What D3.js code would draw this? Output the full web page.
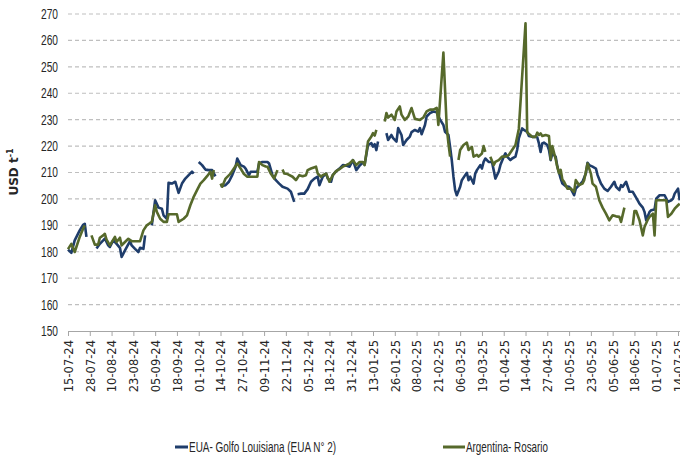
<!DOCTYPE html>
<html>
<head>
<meta charset="utf-8">
<script src="https://cdn.jsdelivr.net/npm/d3@7"></script>
<style>
  body { margin: 0; background: #fff; }
  svg { display: block; }
</style>
</head>
<body>
<svg></svg>
<script>
const yTicks = [150, 160, 170, 180, 190, 200, 210, 220, 230, 240, 250, 260, 270]

const xTickLabels = [
    '15-07-24', '28-07-24', '10-08-24', '23-08-24', '05-09-24', '18-09-24', '01-10-24', '14-10-24',
    '27-10-24', '09-11-24', '22-11-24', '05-12-24', '18-12-24', '31-12-24', '13-01-25', '26-01-25',
    '08-02-25', '21-02-25', '06-03-25', '19-03-25', '01-04-25', '14-04-25', '27-04-25', '10-05-25',
    '23-05-25', '05-06-25', '18-06-25', '01-07-25', '14-07-25'
]

const seriesNames = ['EUA- Golfo Louisiana (EUA N° 2)', 'Argentina- Rosario']

// EUA - Golfo Louisiana, USD/t (null = no quote)
const euaSeries = [
    ['15-07-24', 180.8], ['17-07-24', 179.6], ['19-07-24', 184.3], ['22-07-24', 188.1], ['24-07-24', 190.2],
    ['25-07-24', 190.6], ['26-07-24', 185.6], ['29-07-24', null],
    ['01-08-24', 181.2], ['03-08-24', 183], ['05-08-24', 184.3], ['06-08-24', 185], ['08-08-24', 182.4],
    ['09-08-24', 181.8], ['11-08-24', 184.3], ['13-08-24', 183], ['15-08-24', 181.5], ['16-08-24', 178],
    ['18-08-24', 180.5], ['21-08-24', 184], ['22-08-24', 182.4], ['24-08-24', 181.1], ['26-08-24', 179.9],
    ['27-08-24', 181.5], ['29-08-24', 181.1], ['30-08-24', 186.2], ['01-09-24', null],
    ['03-09-24', 190], ['05-09-24', 199.5], ['07-09-24', 196.7], ['09-09-24', 196.3], ['10-09-24', 193.8],
    ['12-09-24', 192.5], ['13-09-24', 206.1], ['15-09-24', 205.8], ['17-09-24', 206.5], ['19-09-24', 202.3],
    ['21-09-24', 205.8], ['23-09-24', 207.7], ['25-09-24', 209], ['27-09-24', 210.3], ['28-09-24', 209.6],
    ['29-09-24', null],
    ['01-10-24', 214], ['03-10-24', 212.8], ['05-10-24', 211.1], ['07-10-24', 210.9], ['09-10-24', 210.9],
    ['10-10-24', 209.6], ['11-10-24', 208.6], ['12-10-24', null],
    ['14-10-24', 204.8], ['17-10-24', 205.2], ['19-10-24', 206.5], ['21-10-24', 209], ['23-10-24', 212.2],
    ['24-10-24', 215.3], ['26-10-24', 212.8], ['28-10-24', 212.2], ['29-10-24', 211.5], ['31-10-24', 209],
    ['01-11-24', 210.3], ['03-11-24', 210.3], ['05-11-24', 210.3], ['06-11-24', 213.4], ['08-11-24', 214],
    ['11-11-24', 214], ['12-11-24', 213.4], ['14-11-24', 209], ['16-11-24', 207.1], ['18-11-24', 205.8],
    ['20-11-24', 204.6], ['23-11-24', 203.9], ['25-11-24', 202.7], ['27-11-24', 198.9], ['28-11-24', null],
    ['29-11-24', 201.8], ['01-12-24', 202], ['03-12-24', 202], ['05-12-24', 203.7], ['07-12-24', 206.5],
    ['09-12-24', 207.7], ['11-12-24', 208.4], ['12-12-24', 205.2], ['14-12-24', 208.4], ['16-12-24', 209.6],
    ['17-12-24', 207.7], ['19-12-24', 206.5], ['20-12-24', 209], ['22-12-24', 210.5], ['24-12-24', 211.5],
    ['26-12-24', 212.8], ['28-12-24', 212.6], ['30-12-24', 212.2], ['01-01-25', 214.7], ['03-01-25', 210.9],
    ['05-01-25', 212.6], ['07-01-25', 213.8], ['08-01-25', 213], ['10-01-25', 220.4], ['12-01-25', 221.1],
    ['13-01-25', 219.8], ['14-01-25', 220.7], ['15-01-25', 218.5], ['16-01-25', 221.7], ['18-01-25', null],
    ['21-01-25', 224.9], ['22-01-25', 222.3], ['24-01-25', 224.2], ['25-01-25', 223], ['27-01-25', 221.7],
    ['28-01-25', 226.8], ['30-01-25', 224.2], ['31-01-25', 220.4], ['02-02-25', 222.3], ['04-02-25', 223.6],
    ['05-02-25', 225.3], ['07-02-25', 226.1], ['09-02-25', 225.5], ['10-02-25', 226.8], ['11-02-25', 224.5],
    ['13-02-25', 228], ['14-02-25', 231.2], ['16-02-25', 232.5], ['18-02-25', 233.1], ['20-02-25', 232.8],
    ['22-02-25', 230], ['24-02-25', 228], ['25-02-25', 225.4], ['27-02-25', 224.2], ['28-02-25', 219.7],
    ['01-03-25', 214.7], ['02-03-25', 208.4], ['03-03-25', 203.3], ['04-03-25', 201.4], ['06-03-25', 204.6],
    ['07-03-25', 207.1], ['09-03-25', 209], ['10-03-25', 209.9], ['11-03-25', 207.1], ['12-03-25', 208.4],
    ['14-03-25', 205.8], ['15-03-25', 209.6], ['16-03-25', 210.9], ['18-03-25', 212.8], ['19-03-25', 211.5],
    ['20-03-25', 214], ['21-03-25', 215.3], ['23-03-25', 214], ['25-03-25', 214], ['26-03-25', 210.9],
    ['27-03-25', 207.7], ['29-03-25', 210.3], ['30-03-25', 212.8], ['01-04-25', 216], ['02-04-25', 217.2],
    ['03-04-25', 216], ['05-04-25', 214.7], ['06-04-25', 215.3], ['08-04-25', 216], ['09-04-25', 218.5],
    ['10-04-25', 222.9], ['12-04-25', 226.7], ['13-04-25', 226.1], ['15-04-25', 225.4], ['16-04-25', 223.8],
    ['18-04-25', 223.5], ['20-04-25', 223.5], ['21-04-25', 223.3], ['22-04-25', 221], ['23-04-25', 217.8],
    ['24-04-25', 221], ['25-04-25', 221.3], ['27-04-25', 220.4], ['28-04-25', 218.5], ['29-04-25', 214.7],
    ['30-04-25', 217.2], ['02-05-25', 216], ['03-05-25', 212.2], ['05-05-25', 207.7], ['06-05-25', 205.8],
    ['08-05-25', 204.8], ['10-05-25', 204.6], ['11-05-25', 203.9], ['13-05-25', 201.4], ['14-05-25', 203.9],
    ['16-05-25', 205.2], ['18-05-25', 206.5], ['20-05-25', 209.6], ['21-05-25', 213.7], ['22-05-25', 212.8],
    ['24-05-25', 212.2], ['26-05-25', 211.5], ['27-05-25', 209], ['29-05-25', 205.8], ['31-05-25', 203.9],
    ['02-06-25', 203], ['04-06-25', 204.6], ['06-06-25', 206.5], ['07-06-25', 204.6], ['09-06-25', 203.3],
    ['10-06-25', 205.2], ['11-06-25', 204.6], ['13-06-25', 206.5], ['14-06-25', 204.6], ['15-06-25', 202.7],
    ['17-06-25', 202.7], ['19-06-25', 200.5], ['21-06-25', 198.2], ['23-06-25', 196.7], ['24-06-25', 195.1],
    ['25-06-25', 191.9], ['27-06-25', 195.1], ['28-06-25', 195.7], ['30-06-25', 196], ['01-07-25', 200.1],
    ['03-07-25', 201.4], ['04-07-25', 201.4], ['06-07-25', 201.4], ['08-07-25', 198.9], ['10-07-25', 199.5],
    ['11-07-25', 200.1], ['12-07-25', 202], ['14-07-25', 203.9], ['15-07-25', 199.5]
]

// Argentina - Rosario, USD/t (null = no quote)
const argSeries = [
    ['15-07-24', 181], ['17-07-24', 183], ['19-07-24', 179.9], ['20-07-24', 181.8], ['22-07-24', 185.6],
    ['24-07-24', 188.7], ['25-07-24', 190], ['27-07-24', null],
    ['29-07-24', 186.2], ['31-07-24', 182.7], ['02-08-24', 182.7], ['03-08-24', 185.3], ['05-08-24', 186.2],
    ['06-08-24', 186.8], ['07-08-24', 184.6], ['09-08-24', 182.4], ['11-08-24', 184.6], ['12-08-24', 185.6],
    ['13-08-24', 183.7], ['15-08-24', 185.3], ['16-08-24', 182.4], ['18-08-24', 183.7], ['20-08-24', 184.9],
    ['22-08-24', 184], ['25-08-24', 184], ['27-08-24', 184], ['29-08-24', 188.1], ['31-08-24', 190],
    ['02-09-24', 190.9], ['03-09-24', 191.3], ['05-09-24', 197.6], ['06-09-24', 195.1], ['08-09-24', 192.5],
    ['10-09-24', 191.3], ['12-09-24', 191.3], ['13-09-24', 194.2], ['18-09-24', 194.2], ['19-09-24', 191.3],
    ['22-09-24', 192.5], ['24-09-24', 193.8], ['26-09-24', 197.6], ['28-09-24', 200.8], ['30-09-24', 203.3],
    ['02-10-24', 205.8], ['04-10-24', 207.1], ['06-10-24', 208.6], ['08-10-24', 210.3], ['09-10-24', 207.7],
    ['10-10-24', 210.9], ['12-10-24', null],
    ['14-10-24', 205.8], ['15-10-24', 204.6], ['17-10-24', 207.7], ['20-10-24', 209.6], ['22-10-24', 211.5],
    ['24-10-24', 213.4], ['26-10-24', 211.5], ['28-10-24', 209.4], ['30-10-24', 208.4], ['02-11-24', 208.4],
    ['05-11-24', 208.4], ['06-11-24', 214], ['08-11-24', 212.8], ['10-11-24', 212.3], ['11-11-24', 212.2],
    ['13-11-24', 209.6], ['15-11-24', 207.7], ['17-11-24', 210.9], ['18-11-24', null],
    ['20-11-24', 211.1], ['21-11-24', 209.6], ['23-11-24', 209.4], ['26-11-24', 208.4], ['28-11-24', 207.1],
    ['30-11-24', 209], ['02-12-24', 208.6], ['04-12-24', 209], ['05-12-24', 210.9], ['07-12-24', 211.5],
    ['10-12-24', 212.2], ['11-12-24', 209.6], ['13-12-24', 208.4], ['14-12-24', 209], ['16-12-24', 209.6],
    ['18-12-24', 206.5], ['20-12-24', 209], ['22-12-24', 210.5], ['24-12-24', 211.3], ['26-12-24', 212.2],
    ['28-12-24', 212.8], ['30-12-24', 213.4], ['01-01-25', 214.7], ['03-01-25', 212.8], ['05-01-25', 214],
    ['07-01-25', 214], ['08-01-25', 212.8], ['10-01-25', 221.7], ['12-01-25', 223.6], ['13-01-25', 224.9],
    ['14-01-25', 224], ['15-01-25', 226.1], ['17-01-25', null],
    ['20-01-25', 229.3], ['21-01-25', 232.5], ['22-01-25', 230.8], ['24-01-25', 231.9], ['26-01-25', 229.9],
    ['27-01-25', 233.1], ['29-01-25', 235], ['30-01-25', 231.9], ['01-02-25', 229.9], ['03-02-25', 231.2],
    ['05-02-25', 234.4], ['07-02-25', 230.3], ['10-02-25', 229.9], ['12-02-25', 230.8], ['14-02-25', 233.1],
    ['16-02-25', 233.8], ['18-02-25', 233.8], ['20-02-25', 234.5], ['21-02-25', 228], ['24-02-25', 255.4],
    ['26-02-25', 227], ['27-02-25', 221], ['28-02-25', 216], ['02-03-25', null],
    ['05-03-25', 214.7], ['06-03-25', 218.5], ['08-03-25', 220.4], ['10-03-25', 221.3], ['11-03-25', 218.5],
    ['13-03-25', 219.7], ['14-03-25', 216], ['16-03-25', 216.7], ['17-03-25', 216], ['19-03-25', 217.2],
    ['20-03-25', 220], ['21-03-25', 217.8], ['22-03-25', null],
    ['24-03-25', 216], ['26-03-25', 212.8], ['27-03-25', 214], ['29-03-25', 214.7], ['31-03-25', 216],
    ['02-04-25', 216], ['04-04-25', 216.6], ['06-04-25', 218.5], ['08-04-25', 220.4], ['10-04-25', 226.5],
    ['14-04-25', 266.5], ['15-04-25', 225.2], ['18-04-25', 223.5], ['20-04-25', 223.5], ['21-04-25', 225.1],
    ['22-04-25', 224.2], ['23-04-25', 224.8], ['24-04-25', 223.8], ['26-04-25', 224.2], ['28-04-25', 223.8],
    ['29-04-25', 215], ['30-04-25', 220], ['02-05-25', 215], ['03-05-25', 212], ['04-05-25', 209.7],
    ['05-05-25', 211], ['06-05-25', 207.3], ['07-05-25', 206.5], ['09-05-25', 203.9], ['11-05-25', 203.9],
    ['13-05-25', 202.7], ['14-05-25', 207.1], ['16-05-25', 205.2], ['18-05-25', 205.8], ['19-05-25', 207.1],
    ['21-05-25', 213.4], ['23-05-25', 209.6], ['24-05-25', 205.8], ['26-05-25', 204.6], ['28-05-25', 199.5],
    ['30-05-25', 196.7], ['01-06-25', 194.4], ['03-06-25', 191.9], ['05-06-25', 193.8], ['07-06-25', 193.4],
    ['09-06-25', 193.2], ['10-06-25', 191.3], ['12-06-25', 196.7], ['14-06-25', null],
    ['17-06-25', 190], ['18-06-25', 195.4], ['19-06-25', 195.4], ['21-06-25', 191.9], ['23-06-25', 186.2],
    ['24-06-25', 189.4], ['26-06-25', 192.2], ['27-06-25', 193.2], ['29-06-25', 194.4], ['30-06-25', 186.2],
    ['01-07-25', 199.5], ['03-07-25', 199.5], ['05-07-25', 199.5], ['07-07-25', 199.5], ['08-07-25', 193.2],
    ['10-07-25', 194.4], ['12-07-25', 196.3], ['14-07-25', 197.6], ['15-07-25', 198.2]
]

const width = 680
const height = 456
const colors = ['#1f3d6b', '#56692b']
const parse = d3.timeParse('%d-%m-%y')
// no narrow font installed, so narrow texts get squeezed with textLength
const narrowFont = '"Liberation Sans", Arial, sans-serif'

const svg = d3.select('svg').attr('width', width).attr('height', height)

const x = d3.scaleTime()
    .domain([parse('15-07-24'), parse('15-07-25')])
    .range([68, 679.7])

const y = d3.scaleLinear()
    .domain([150, 270])
    .range([331, 14])

// dashed horizontal grid
svg.append('g')
    .selectAll('line')
    .data(yTicks.filter(t => t > 150))
    .join('line')
    .attr('x1', 68)
    .attr('x2', 680)
    .attr('y1', t => y(t))
    .attr('y2', t => y(t))
    .attr('stroke', '#bfbfbf')
    .attr('stroke-width', 1.2)
    .attr('stroke-dasharray', '4,3')

// y axis (labels only)
const yAxis = svg.append('g')
    .attr('transform', 'translate(68,0)')
    .call(d3.axisLeft(y).tickValues(yTicks).tickSize(0).tickPadding(10))
yAxis.select('.domain').remove()
yAxis.selectAll('text')
    .attr('font-family', narrowFont)
    .attr('font-size', 14)
    .attr('fill', '#262626')
    .attr('textLength', 17)
    .attr('lengthAdjust', 'spacingAndGlyphs')

// x axis with rotated date labels
const xAxis = svg.append('g')
    .attr('transform', 'translate(0,331)')
    .call(d3.axisBottom(x)
        .tickValues(xTickLabels.map(parse))
        .tickFormat(d3.timeFormat('%d-%m-%y'))
        .tickSize(5)
        .tickSizeOuter(0))
xAxis.select('.domain').attr('stroke', '#a6a6a6').attr('d', 'M68,0.5H680')
xAxis.selectAll('.tick line').attr('stroke', '#a6a6a6')
xAxis.selectAll('text')
    .attr('font-family', '"DejaVu Sans", Verdana, sans-serif')
    .attr('font-size', 11.5)
    .attr('fill', '#262626')
    .attr('text-anchor', 'end')
    .attr('transform', 'rotate(-90)')
    .attr('x', -9)
    .attr('y', 0)
    .attr('dy', '0.38em')

// y axis title
const title = svg.append('text')
    .attr('transform', 'translate(18,172) rotate(-90)')
    .attr('text-anchor', 'middle')
    .attr('font-family', '"DejaVu Sans", Verdana, sans-serif')
    .attr('font-weight', 'bold')
    .attr('font-size', 12)
    .attr('fill', '#262626')
title.append('tspan').text('USD t')
title.append('tspan').attr('dy', -5).attr('font-size', 8).text('-1')

// price lines
const line = d3.line()
    .defined(d => d[1] != null)
    .x(d => x(parse(d[0])))
    .y(d => y(d[1]))

svg.append('g')
    .selectAll('path')
    .data([euaSeries, argSeries])
    .join('path')
    .attr('d', line)
    .attr('fill', 'none')
    .attr('stroke', (d, i) => colors[i])
    .attr('stroke-width', 2.6)
    .attr('stroke-linejoin', 'round')

// legend
const legendItems = [
    { x1: 175, x2: 188, w: 147, name: seriesNames[0] },
    { x1: 443, x2: 465, w: 82, name: seriesNames[1] }
]
const legend = svg.append('g')
    .selectAll('g')
    .data(legendItems)
    .join('g')
legend.append('line')
    .attr('x1', d => d.x1)
    .attr('x2', d => d.x2)
    .attr('y1', 447)
    .attr('y2', 447)
    .attr('stroke', (d, i) => colors[i])
    .attr('stroke-width', 3)
legend.append('text')
    .attr('x', d => d.x2 + 1)
    .attr('y', 447)
    .attr('dy', '0.36em')
    .attr('font-family', narrowFont)
    .attr('font-size', 14)
    .attr('fill', '#262626')
    .attr('textLength', d => d.w)
    .attr('lengthAdjust', 'spacingAndGlyphs')
    .text(d => d.name)
</script>
</body>
</html>
